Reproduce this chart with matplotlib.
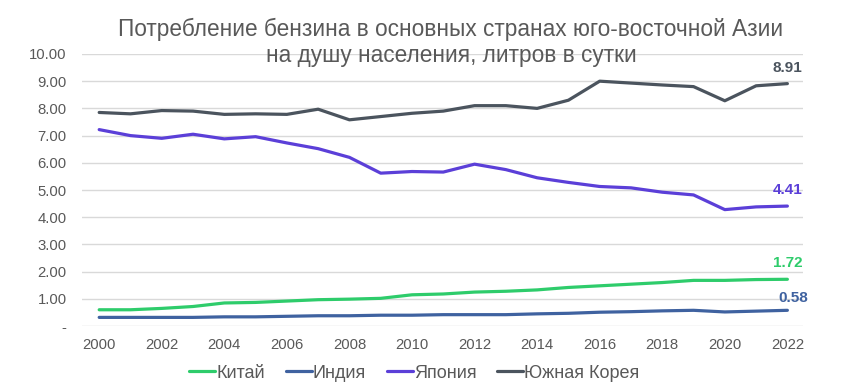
import matplotlib.pyplot as plt
from matplotlib.ticker import FuncFormatter

plt.rcParams['font.family'] = ['Liberation Sans', 'DejaVu Sans']

years = list(range(2000, 2023))
china = [0.60, 0.60, 0.65, 0.72, 0.85, 0.87, 0.92, 0.97, 0.99, 1.02, 1.15, 1.18,
         1.25, 1.28, 1.33, 1.42, 1.48, 1.54, 1.60, 1.68, 1.68, 1.71, 1.72]
india = [0.32, 0.32, 0.32, 0.32, 0.34, 0.34, 0.36, 0.38, 0.38, 0.40, 0.40, 0.42,
         0.42, 0.42, 0.45, 0.47, 0.51, 0.53, 0.56, 0.58, 0.52, 0.55, 0.58]
japan = [7.22, 7.00, 6.90, 7.05, 6.88, 6.96, 6.73, 6.52, 6.20, 5.62, 5.68, 5.66,
         5.95, 5.75, 5.45, 5.28, 5.13, 5.08, 4.92, 4.82, 4.28, 4.38, 4.41]
korea = [7.85, 7.80, 7.92, 7.90, 7.78, 7.80, 7.78, 7.97, 7.58, 7.70, 7.82, 7.90,
         8.10, 8.10, 8.00, 8.30, 9.00, 8.93, 8.86, 8.80, 8.28, 8.83, 8.91]

names = ["Китай", "Индия", "Япония", "Южная Корея"]
series = [china, india, japan, korea]
colors = ["#2ecc6b", "#3f62a0", "#5b3fd8", "#4b545e"]
# (dx, dy) shift of the end-value labels, in data units
label_shift = [(0.0, 0.44), (0.18, 0.29), (0.0, 0.44), (0.0, 0.42)]

fig = plt.figure(figsize=(8.63, 3.91), dpi=100)
ax = fig.add_axes([0.095, 0.166, 0.8355, 0.696])

for name, vals, c in zip(names, series, colors):
    ax.plot(years, vals, color=c, lw=2.3, label=name, solid_capstyle='round')

for vals, c, (dx, dy) in zip(series, colors, label_shift):
    ax.text(years[-1] + dx, vals[-1] + dy, f"{vals[-1]:.2f}", color=c,
            fontsize=11, fontweight='bold', ha='center', va='baseline')

ax.set_xlim(1999.45, 2022.5)
ax.set_ylim(0, 10)
ax.set_xticks(years[::2])
ax.set_yticks(range(0, 11))
ax.yaxis.set_major_formatter(FuncFormatter(lambda v, p: "-" if v == 0 else f"{v:.2f}"))
ax.grid(axis='y', color='#d9d9d9', lw=1)
ax.set_axisbelow(True)
for s in ax.spines.values():
    s.set_visible(False)
ax.tick_params(length=0, labelsize=10.7, colors='#595959')
ax.tick_params(axis='y', pad=11)
ax.tick_params(axis='x', pad=8.5)

fig.text(0.5226, 0.908, "Потребление бензина в основных странах юго-восточной Азии",
         ha='center', va='baseline', fontsize=16.3, color='#595959')
fig.text(0.5226, 0.841, "на душу населения, литров в сутки",
         ha='center', va='baseline', fontsize=16.3, color='#595959')

fig.legend(loc='center', bbox_to_anchor=(0.48, 0.046), ncol=4, frameon=False,
           fontsize=13, handlelength=1.45, handletextpad=0.05, columnspacing=1.15,
           labelcolor='#595959', borderpad=0)

fig.savefig("out.png", dpi=100)
